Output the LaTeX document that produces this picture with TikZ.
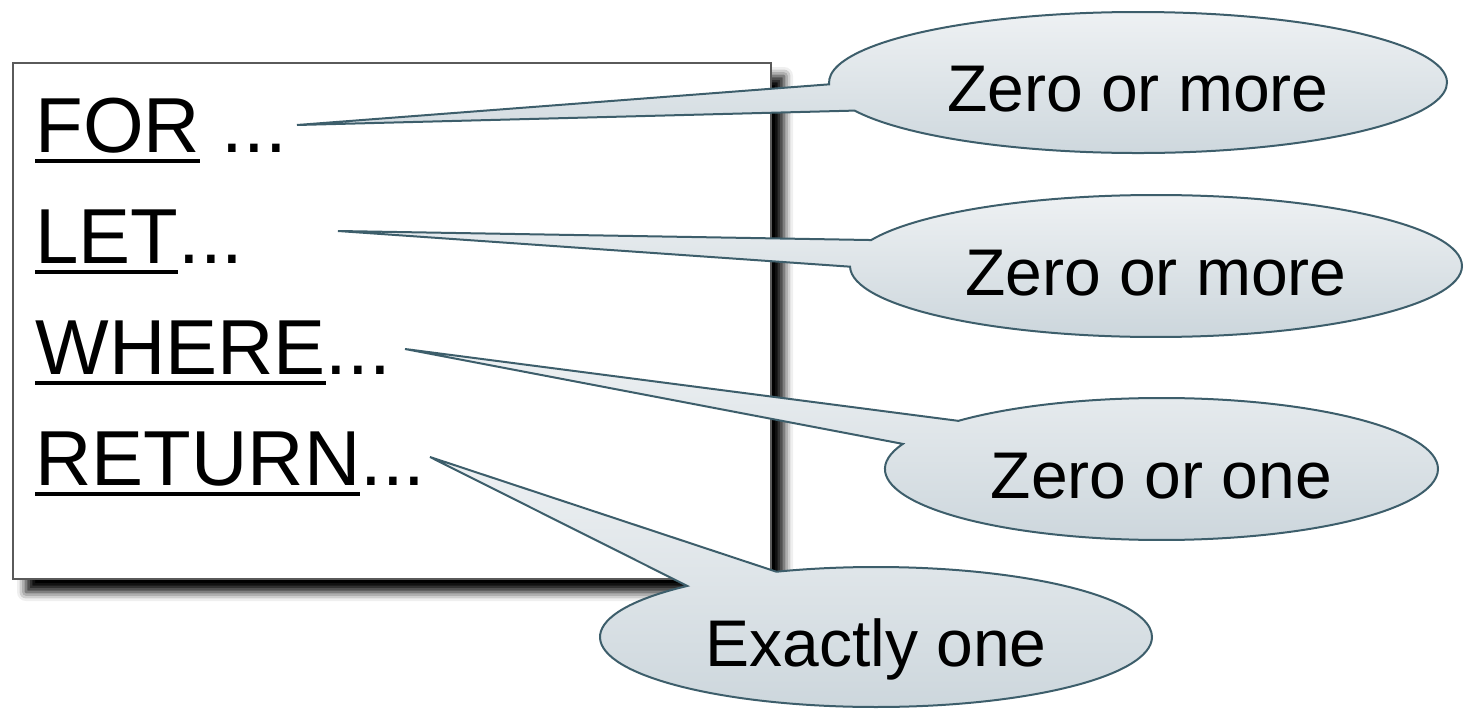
\documentclass[tikz,border=0pt]{standalone}
\usepackage{fontspec}
\setmainfont{Liberation Sans}
\usetikzlibrary{shapes.callouts, shadows.blur}
\definecolor{noteedge}{HTML}{3D5E6B}
\definecolor{notetop}{HTML}{EEF1F3}
\definecolor{notebottom}{HTML}{CCD6DC}
\definecolor{frameedge}{HTML}{5A5A5A}

% keyword with a thick rule under it
\newcommand{\kw}[1]{\setbox0\hbox{#1}\rlap{\rule[-5.5pt]{\wd0}{2.2pt}}\box0\relax}

\tikzset{
  keyword/.style={anchor=base west, inner sep=0pt, font=\fontsize{39}{47}\selectfont},
  note/.style={ellipse callout, draw=noteedge, line width=1pt,
               top color=notetop, bottom color=notebottom,
               callout pointer arc=22,
               inner sep=0pt, text height=29pt, text depth=0pt,
               font=\fontsize{33}{40}\selectfont},
}

\begin{document}
\begin{tikzpicture}[x=0.5pt, y=-0.5pt]
\useasboundingbox (0,0) rectangle (1464,712);

% the query frame
\node[draw=frameedge, line width=1pt, fill=white, anchor=north west,
      minimum width=379pt, minimum height=258pt,
      blur shadow={shadow xshift=6.5pt, shadow yshift=-6.5pt, shadow blur radius=4.5pt, shadow opacity=100}]
      (frame) at (12,62) {};

\node[keyword] (forKw) at (35,152) {\kw{FOR} ...};
\node[keyword] (letKw) at (35,263) {\kw{LET}...};
\node[keyword] (whereKw) at (35,374) {\kw{WHERE}...};
\node[keyword] (returnKw) at (35,485) {\kw{RETURN}...};

% where the callouts point
\coordinate (forTip) at (297,125);
\coordinate (letTip) at (338,231);
\coordinate (whereTip) at (405,349);
\coordinate (returnTip) at (430,457);

\node[note, minimum width=309pt, minimum height=70.5pt,
      callout absolute pointer={(forTip)}]
      (forNote) at (1138,82.5) {Zero or more};
\node[note, minimum width=306pt, minimum height=71pt,
      callout absolute pointer={(letTip)}]
      (letNote) at (1156,266) {Zero or more};
\node[note, minimum width=276.5pt, minimum height=71pt,
      callout absolute pointer={(whereTip)}]
      (whereNote) at (1161.5,469) {Zero or one};
\node[note, minimum width=276pt, minimum height=70pt,
      callout absolute pointer={(returnTip)}]
      (returnNote) at (876,637) {Exactly one};
\end{tikzpicture}
\end{document}
